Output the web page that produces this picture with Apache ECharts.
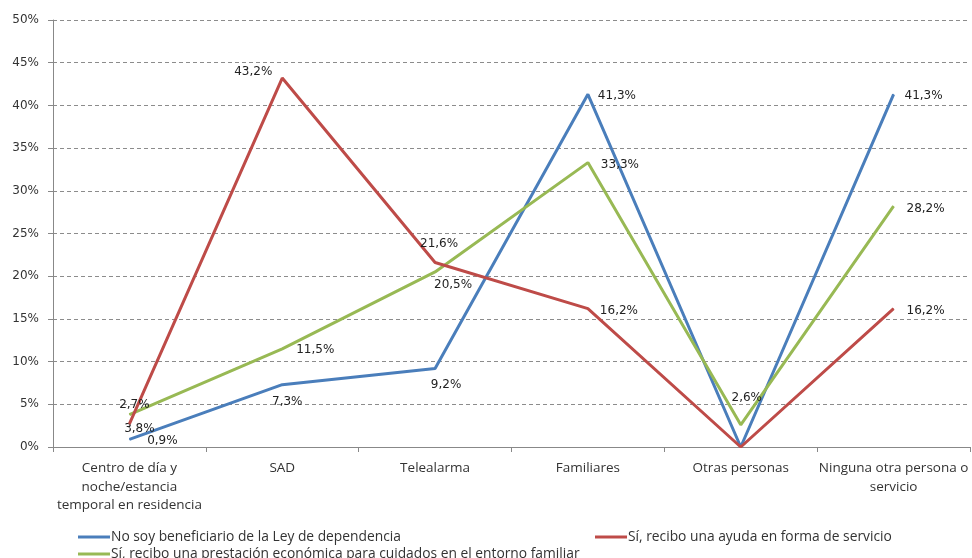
<!DOCTYPE html>
<html lang="es">
<head>
    <meta charset="UTF-8">
    <title>Apoyos recibidos</title>
    <script src="https://cdn.jsdelivr.net/npm/echarts@6/dist/echarts.min.js"></script>
    <style>
        html, body { margin: 0; padding: 0; background: #ffffff; }
        #chart { width: 972px; height: 558px; }
    </style>
</head>
<body>
    <div id="chart"></div>
    <script>
        // categorías del eje X (con saltos de línea como en el original)
        var categories = [
            'Centro de día y\nnoche/estancia\ntemporal en residencia',
            'SAD',
            'Telealarma',
            'Familiares',
            'Otras personas',
            'Ninguna otra persona o\nservicio'
        ];
        var seriesNames = [
            'No soy beneficiario de la Ley de dependencia',
            'Sí, recibo una ayuda en forma de servicio',
            'Sí, recibo una prestación económica para cuidados en el entorno familiar'
        ];
        var noBeneficiario = [0.9, 7.3, 9.2, 41.3, 0, 41.3];
        var ayudaServicio = [2.7, 43.2, 21.6, 16.2, 0, 16.2];
        var prestacionEconomica = [3.8, 11.5, 20.5, 33.3, 2.6, 28.2];

        var colors = ['#4a7ebb', '#be4b48', '#98b954'];

        // desplazamiento de cada etiqueta respecto a su punto (como en Excel)
        var labelPos = [
            [[33, 2], [5, 17], [11, 16], [29, 2], null, [30, 2]],
            [[5, -19], [-29, -6], [4, -19], [31, 2], null, [32, 2]],
            [[10, 14], [33, 1], [18, 13], [32, 2], [6, -27], [32, 3]]
        ];

        function fmt(v) {
            return v.toFixed(1).replace('.', ',') + '%';
        }

        function buildData(values, k) {
            return values.map(function (v, i) {
                var off = labelPos[k][i];
                return {
                    value: v,
                    label: off ? {
                        show: true,
                        position: [off[0] + 0.5, off[1] + 0.5],
                        align: 'center',
                        verticalAlign: 'middle'
                    } : { show: false }
                };
            });
        }

        var allValues = [noBeneficiario, ayudaServicio, prestacionEconomica];

        function legendAt(name, left, top) {
            return {
                data: [name],
                left: left, top: top,
                itemWidth: 32, itemHeight: 3,
                icon: 'rect',
                textStyle: { fontFamily: 'Open Sans', fontSize: 13.8, color: '#333', padding: [0, 0, 0, -4] }
            };
        }

        var chart = echarts.init(document.getElementById('chart'));

        chart.setOption({
            animation: false,
            textStyle: { fontFamily: 'DejaVu Sans' },
            grid: { left: 53, right: 2, top: 20, bottom: 111 },
            legend: [
                legendAt(seriesNames[0], 73, 525),
                legendAt(seriesNames[1], 590, 525),
                legendAt(seriesNames[2], 73, 542)
            ],
            xAxis: {
                type: 'category',
                data: categories,
                boundaryGap: true,
                axisLine: { lineStyle: { color: '#888', width: 1 } },
                axisTick: { show: true, length: 5, lineStyle: { color: '#888' } },
                axisLabel: {
                    fontFamily: 'Open Sans',
                    fontSize: 13.5,
                    color: '#333',
                    lineHeight: 18.5,
                    margin: 12,
                    interval: 0
                }
            },
            yAxis: {
                type: 'value',
                min: 0, max: 50, interval: 5,
                axisLine: { show: true, lineStyle: { color: '#888' } },
                axisTick: { show: true, length: 5, lineStyle: { color: '#888' } },
                axisLabel: {
                    formatter: function (v) { return v + '%'; },
                    fontSize: 12,
                    color: '#333',
                    margin: 14
                },
                splitLine: { lineStyle: { color: '#8c8c8c', type: [4, 3], width: 1 } }
            },
            series: allValues.map(function (vals, k) {
                return {
                    name: seriesNames[k],
                    type: 'line',
                    data: buildData(vals, k),
                    symbol: 'circle',
                    symbolSize: 1,
                    showSymbol: true,
                    itemStyle: { color: colors[k] },
                    color: colors[k],
                    lineStyle: { width: 3, color: colors[k] },
                    label: {
                        show: true,
                        formatter: function (p) { return fmt(p.value); },
                        fontSize: 12,
                        color: '#222'
                    },
                    labelLayout: { hideOverlap: false },
                    z: k === 1 ? 3 : 2
                };
            })
        });
    </script>
</body>
</html>
